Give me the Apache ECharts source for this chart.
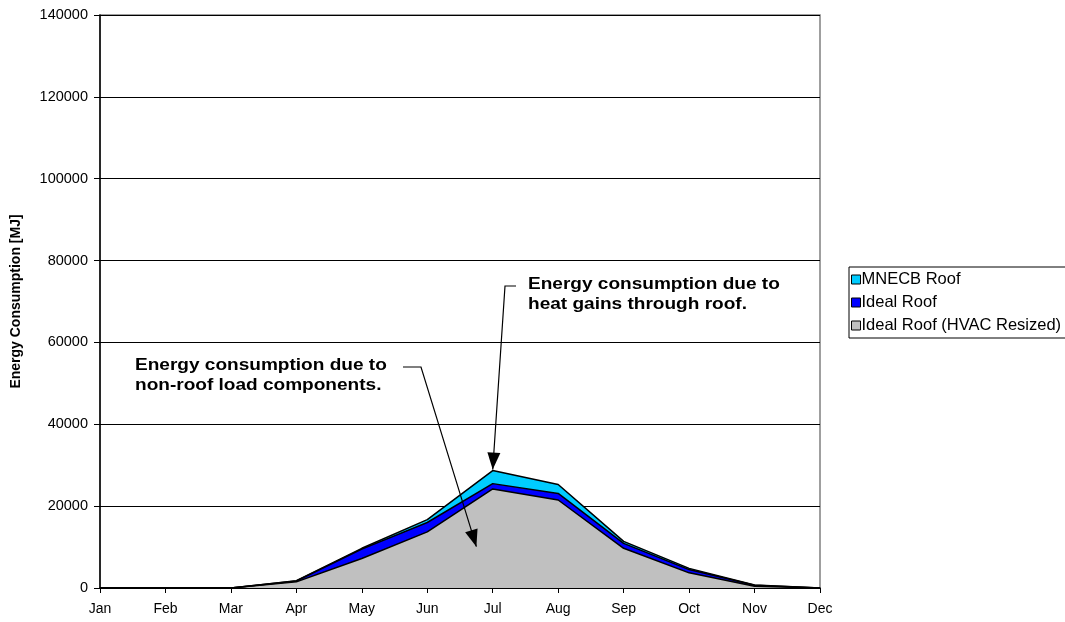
<!DOCTYPE html>
<html>
<head>
<meta charset="utf-8">
<script src="https://cdn.jsdelivr.net/npm/echarts@6/dist/echarts.min.js"></script>
<style>
  html, body { margin: 0; padding: 0; background: #fff; }
  #chart { width: 1065px; height: 622px; }
</style>
</head>
<body>
<div id="chart"></div>
<script>
// Monthly cooling energy consumption [MJ] for three roof cases
const months = ['Jan', 'Feb', 'Mar', 'Apr', 'May', 'Jun', 'Jul', 'Aug', 'Sep', 'Oct', 'Nov', 'Dec'];
const mnecbRoof = [0, 0, 0, 1800, 9700, 16700, 28700, 25300, 11400, 4800, 750, 0];
const idealRoof = [0, 0, 0, 1700, 9500, 16000, 25500, 23100, 10900, 4500, 650, 0];
const idealRoofResized = [0, 0, 0, 1500, 7200, 13700, 24200, 21500, 9700, 3700, 450, 0];
const seriesNames = ['MNECB Roof', 'Ideal Roof', 'Ideal Roof (HVAC Resized)'];
const seriesColors = ['#00CCFF', '#0000FF', '#C0C0C0'];
const yTicks = { min: 0, max: 140000, step: 20000 };

const FONT = '"Liberation Sans", Arial, sans-serif';
const chart = echarts.init(document.getElementById('chart'), null, { renderer: 'canvas' });

function areaSeries(name, data, color) {
  return {
    name: name,
    type: 'line',
    data: data,
    symbol: 'none',
    smooth: false,
    lineStyle: { color: '#000', width: 1.5 },
    itemStyle: { color: color, borderColor: '#000', borderWidth: 1 },
    areaStyle: { color: color, opacity: 1 },
    emphasis: { disabled: true },
    animation: false
  };
}

chart.setOption({
  animation: false,
  textStyle: { fontFamily: FONT },
  grid: {
    left: 100, right: 245, top: 15, bottom: 34,
    containLabel: false,
    outerBoundsMode: 'none',
    show: true, borderColor: '#808080', borderWidth: 1.5, backgroundColor: '#fff'
  },
  legend: {
    data: seriesNames,
    orient: 'vertical',
    left: 849, top: 267,
    icon: 'rect',
    itemWidth: 9, itemHeight: 9, itemGap: 6,
    padding: [4, 12, 4, 2],
    borderColor: '#000', borderWidth: 1,
    backgroundColor: '#fff',
    selectedMode: false,
    textStyle: { fontFamily: FONT, fontSize: 16.5, color: '#000', padding: [0, 0, 0, -4] },
    itemStyle: { borderColor: '#000', borderWidth: 1 }
  },
  xAxis: {
    type: 'category',
    data: months,
    boundaryGap: false,
    axisLine: { lineStyle: { color: '#000', width: 1.5 } },
    axisTick: { show: true, alignWithLabel: true, length: 5, lineStyle: { color: '#000' } },
    axisLabel: { color: '#000', fontSize: 14, margin: 14, fontFamily: FONT },
    splitLine: { show: false }
  },
  yAxis: {
    type: 'value',
    min: yTicks.min, max: yTicks.max, interval: yTicks.step,
    name: 'Energy Consumption [MJ]',
    nameLocation: 'middle',
    nameGap: 77,
    nameRotate: 90,
    nameTextStyle: { fontFamily: FONT, fontSize: 14, fontWeight: 'bold', color: '#000' },
    axisLine: { show: true, lineStyle: { color: '#000', width: 1.5 } },
    axisTick: { show: true, length: 6, lineStyle: { color: '#000' } },
    axisLabel: { color: '#000', fontSize: 14.5, margin: 12, fontFamily: FONT, formatter: v => String(v) },
    splitLine: { show: true, lineStyle: { color: '#000', width: 1 } }
  },
  series: [
    areaSeries(seriesNames[0], mnecbRoof, seriesColors[0]),
    areaSeries(seriesNames[1], idealRoof, seriesColors[1]),
    areaSeries(seriesNames[2], idealRoofResized, seriesColors[2])
  ]
});

// Callout leaders: a short horizontal run next to the text, then an arrow down to the data
function arrowHead(tip, from, len, halfW) {
  const dx = tip[0] - from[0], dy = tip[1] - from[1];
  const d = Math.hypot(dx, dy);
  const ux = dx / d, uy = dy / d;
  const bx = tip[0] - ux * len, by = tip[1] - uy * len;
  return [tip, [bx - uy * halfW, by + ux * halfW], [bx + uy * halfW, by - ux * halfW]];
}

function callout(lines, textPos, elbow, corner, tip) {
  return [
    {
      type: 'text', x: textPos[0], y: textPos[1], scaleX: 1.19, z: 100,
      style: { text: lines.join('\n'), font: 'bold 16px ' + FONT, fill: '#000', lineHeight: 20 }
    },
    {
      type: 'polyline', z: 100,
      shape: { points: [elbow, corner, tip] },
      style: { stroke: '#000', lineWidth: 1.2, fill: null }
    },
    {
      type: 'polygon', z: 101,
      shape: { points: arrowHead(tip, corner, 17, 6.5) },
      style: { fill: '#000' }
    }
  ];
}

// pixel position of a fractional category index (linear between neighbouring months)
function toPixel(idx, value) {
  const i0 = Math.floor(idx), f = idx - i0;
  const p0 = chart.convertToPixel({ seriesIndex: 0 }, [i0, value]);
  const p1 = chart.convertToPixel({ seriesIndex: 0 }, [Math.min(i0 + 1, months.length - 1), value]);
  return [p0[0] + (p1[0] - p0[0]) * f, p0[1]];
}

// arrow targets in data space: the July peak of the MNECB roof, and a point inside the base area
const roofTip = toPixel(6, mnecbRoof[6]);
const baseTip = toPixel(5.75, 10100);

chart.setOption({
  graphic: [].concat(
    callout(['Energy consumption due to', 'non-roof load components.'],
      [135, 356], [403, 367], [421, 367], baseTip),
    callout(['Energy consumption due to', 'heat gains through roof.'],
      [528, 275], [516, 286], [505, 286], [roofTip[0], roofTip[1] - 1])
  )
});
</script>
</body>
</html>
